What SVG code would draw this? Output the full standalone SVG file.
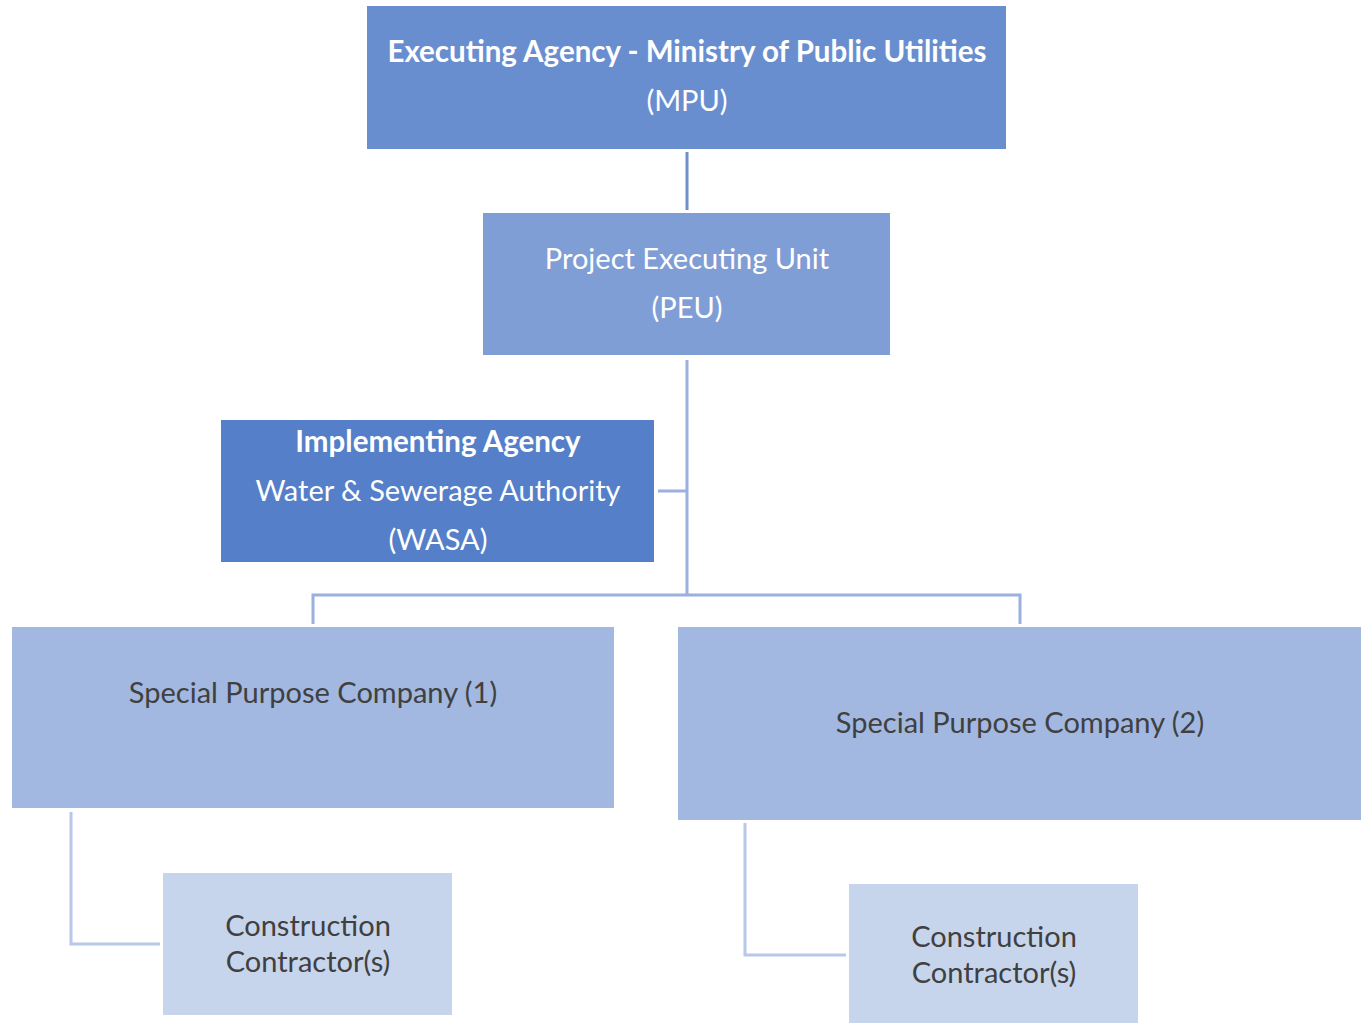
<svg xmlns="http://www.w3.org/2000/svg" width="1368" height="1023" viewBox="0 0 1368 1023">
<style>
text{font-family:Lato,"Open Sans","Liberation Sans",sans-serif;text-anchor:middle;font-size:29px}
.w{fill:#ffffff}
.g{fill:#404040}
.b{font-weight:bold;font-size:29.5px}
.ln{fill:none;stroke:#9AB0DD;stroke-width:3}
.ln2{fill:none;stroke:#B8C8E8;stroke-width:3}
</style>
<rect width="1368" height="1023" fill="#ffffff"/>
<g id="connectors">
<line x1="687" y1="152" x2="687" y2="210" stroke="#6F8FCF" stroke-width="3"/>
<path class="ln" d="M687 360V595M658 491H687M313 624V595H1020V624"/>
<path class="ln2" d="M71 812V944H160M745 823V955H846"/>
</g>
<g id="mpu"><rect x="367" y="6" width="639" height="143" fill="#698ECF"/>
<text class="w b" x="687" y="62">Executing Agency - Ministry of Public Utilities</text>
<text class="w" x="687" y="111">(MPU)</text></g>
<g id="peu"><rect x="483" y="213" width="407" height="142" fill="#7F9ED5"/>
<text class="w" x="687" y="269">Project Executing Unit</text>
<text class="w" x="687" y="318">(PEU)</text></g>
<g id="wasa"><rect x="221" y="420" width="433" height="142" fill="#557FC9"/>
<text class="w b" x="438" y="452">Implementing Agency</text>
<text class="w" x="438" y="501">Water &amp; Sewerage Authority</text>
<text class="w" x="438" y="550">(WASA)</text></g>
<g id="spc1"><rect x="12" y="627" width="602" height="181" fill="#A2B8E0"/>
<text class="g" x="313" y="703">Special Purpose Company (1)</text></g>
<g id="spc2"><rect x="678" y="627" width="683" height="193" fill="#A2B8E0"/>
<text class="g" x="1020" y="733">Special Purpose Company (2)</text></g>
<g id="cc1"><rect x="163" y="873" width="289" height="142" fill="#C7D5EC"/>
<text class="g" x="308" y="936">Construction</text>
<text class="g" x="308" y="972">Contractor(s)</text></g>
<g id="cc2"><rect x="849" y="884" width="289" height="139" fill="#C7D5EC"/>
<text class="g" x="994" y="947">Construction</text>
<text class="g" x="994" y="983">Contractor(s)</text></g>
</svg>
